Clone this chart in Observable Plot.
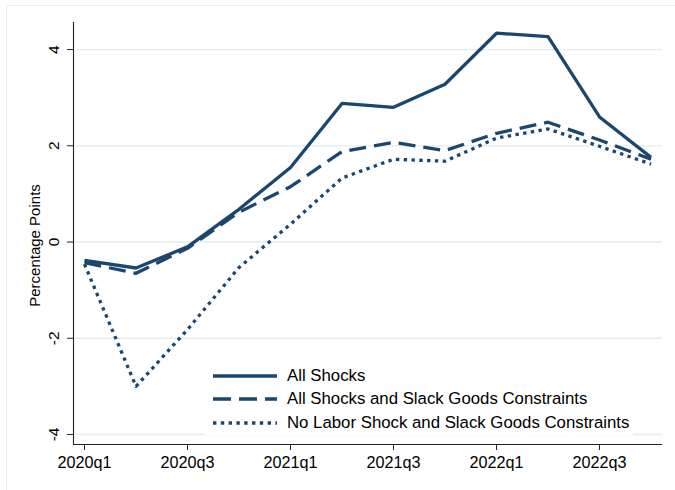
<!DOCTYPE html>
<html>
<head>
<meta charset="utf-8">
<script src="https://cdn.jsdelivr.net/npm/d3@7"></script>
<script src="https://cdn.jsdelivr.net/npm/@observablehq/plot@0.6"></script>
<style>
  html, body { margin: 0; padding: 0; background: #fff; }
  #wrap { position: relative; width: 675px; height: 490px; overflow: hidden; font-family: "Liberation Sans", Arial, sans-serif; }
  #frame { position: absolute; left: 6px; top: 5px; width: 720px; height: 520px; border: 1.5px solid #e6eef0; box-sizing: border-box; pointer-events: none; }
  #chart { position: absolute; left: 0; top: 0; }
  #legend { position: absolute; left: 205px; top: 364px; background: #fff; padding: 0 4px; }
  .row { display: flex; align-items: center; height: 23.5px; }
  .row svg { margin-left: 4px; margin-right: 10px; }
  .row span { font-size: 16.8px; color: #000; white-space: nowrap; }
</style>
</head>
<body>
<div id="wrap">
  <div id="chart"></div>
  <div id="legend"></div>
  <div id="frame"></div>
</div>
<script>
const quarters = ["2020q1","2020q2","2020q3","2020q4","2021q1","2021q2","2021q3","2021q4","2022q1","2022q2","2022q3","2022q4"];
const allShocks  = [-0.38, -0.54, -0.10, 0.68, 1.55, 2.88, 2.80, 3.28, 4.34, 4.27, 2.60, 1.76];
const slackGoods = [-0.43, -0.65, -0.13, 0.62, 1.15, 1.88, 2.07, 1.90, 2.26, 2.49, 2.12, 1.72];
const noLabor    = [-0.46, -3.00, -1.82, -0.53, 0.37, 1.33, 1.72, 1.68, 2.16, 2.35, 1.99, 1.62];
const seriesNames = ["All Shocks", "All Shocks and Slack Goods Constraints", "No Labor Shock and Slack Goods Constraints"];
const yTicks = [-4, -2, 0, 2, 4];
const xTickLabels = ["2020q1","2020q3","2021q1","2021q3","2022q1","2022q3"];

const color = "#1a476f";
const dashes = [null, "17,8", "3.4,4.4"];
const seriesValues = [allShocks, slackGoods, noLabor];

const xDomain = [-0.2136, 11.223];
const yDomain = [-4.2083, 4.5625];

const data = seriesValues.map((vals, s) => vals.map((v, i) => ({i, v, s})));

const plot = Plot.plot({
  width: 675,
  height: 490,
  marginLeft: 73,
  marginRight: 13,
  marginTop: 22,
  marginBottom: 46,
  style: {fontFamily: "'Liberation Sans', Arial, sans-serif", fontSize: "16px", color: "#000", background: "transparent", overflow: "visible"},
  x: {type: "linear", domain: xDomain},
  y: {domain: yDomain},
  marks: [
    Plot.gridY(yTicks, {stroke: "#e4ecee", strokeOpacity: 1, strokeWidth: 1.3}),
    Plot.ruleX([xDomain[0]], {stroke: "#222", strokeWidth: 1.1}),
    Plot.ruleY([yDomain[0]], {stroke: "#222", strokeWidth: 1.1}),
    Plot.axisY({ticks: yTicks, tickSize: 6, tickPadding: 13, tickRotate: -90, textAnchor: "middle", lineAnchor: "middle", tickFormat: d => String(d), label: null, stroke: "#222", fontSize: 15.5}),
    Plot.axisX({ticks: xTickLabels.map(q => quarters.indexOf(q)), tickSize: 6, tickPadding: 5.5, tickFormat: i => quarters[i], label: null, stroke: "#222", fontSize: 16.2}),
    Plot.text(["Percentage Points"], {frameAnchor: "left", textAnchor: "middle", dx: -38, dy: 12, rotate: -90, fontSize: 15, fill: "#000"}),
    ...data.map((d, s) => Plot.line(d, {x: "i", y: "v", stroke: color, strokeWidth: 3.3, strokeDasharray: dashes[s], strokeLinecap: "butt", strokeLinejoin: "round"}))
  ]
});
document.getElementById("chart").appendChild(plot);

const legend = document.getElementById("legend");
seriesNames.forEach((name, s) => {
  const row = document.createElement("div");
  row.className = "row";
  const svg = d3.create("svg").attr("width", 64).attr("height", 8);
  svg.append("line").attr("x1", 0).attr("x2", 64).attr("y1", 4).attr("y2", 4)
    .attr("stroke", color).attr("stroke-width", 3.3)
    .attr("stroke-dasharray", dashes[s] ? (s === 1 ? "18,8" : "3.4,4.4") : null);
  row.appendChild(svg.node());
  const span = document.createElement("span");
  span.textContent = name;
  row.appendChild(span);
  legend.appendChild(row);
});
</script>
</body>
</html>
